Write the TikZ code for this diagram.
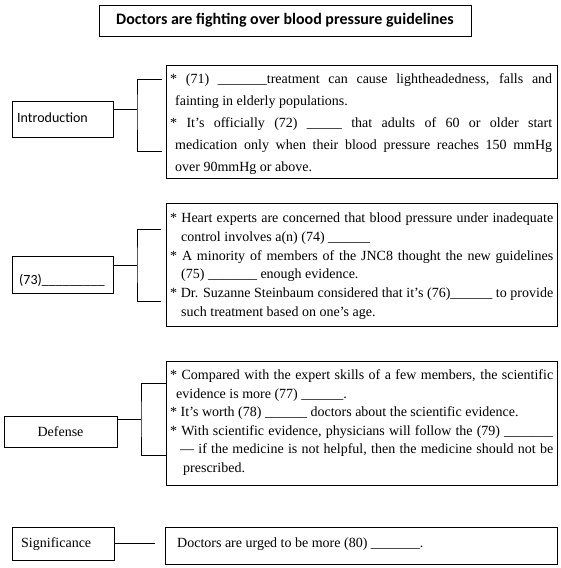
\documentclass[tikz,border=0pt]{standalone}
\usepackage{fontspec}
\setmainfont{Liberation Serif}
\newfontfamily\calfont{Carlito}
\begin{document}
\begin{tikzpicture}[x=1pt,y=-1pt,
  box/.style={draw,line width=0.8pt,inner sep=0pt},
  ln/.style={anchor=base west,inner sep=0pt,font=\fontsize{14}{16}\selectfont},
  lab/.style={anchor=base west,inner sep=0pt,font=\calfont\fontsize{14}{16}\selectfont},
  con/.style={line width=0.8pt}]
\useasboundingbox (0,0) rectangle (561,568);
% title
\node[box,minimum width=372pt,minimum height=31pt,font=\calfont\bfseries\fontsize{16}{18}\selectfont] (title) at (285,20.5) {Doctors are fighting over blood pressure guidelines};
% label boxes
\node[box,minimum width=101pt,minimum height=36pt] (intro) at (62.5,119.5) {};
\node[lab] (introtxt) at (17,122) {Introduction};
\node[box,minimum width=101pt,minimum height=37pt] (q73) at (62.5,274.5) {};
\node[lab] (q73txt) at (19,284) {(73)\_\_\_\_\_\_\_\_\_};
\node[box,minimum width=113pt,minimum height=31pt] (def) at (60.5,431.5) {};
\node[ln,anchor=base] (deftxt) at (60.5,436.5) {Defense};
\node[box,minimum width=102pt,minimum height=33pt] (sig) at (63,543.5) {};
\node[ln] (sigtxt) at (21,547.5) {Significance};
% text boxes
\node[box,minimum width=391pt,minimum height=113pt] (t1) at (361.5,121.5) {};
\node[box,minimum width=391pt,minimum height=123pt] (t2) at (361.5,264.5) {};
\node[box,minimum width=391pt,minimum height=124pt] (t3) at (361.5,423) {};
\node[box,minimum width=392pt,minimum height=37pt] (t4) at (361,545.5) {};
% text 1
\node[ln] (a1) at (170,83) {\makebox[382pt][s]{* (71) \_\_\_\_\_\_\_treatment can cause lightheadedness, falls and}};
\node[ln] (a2) at (175,105.2) {fainting in elderly populations.};
\node[ln] (a3) at (170,127.4) {\makebox[382pt][s]{* It’s officially (72) \_\_\_\_\_ that adults of 60 or older start}};
\node[ln] (a4) at (175,149.6) {\makebox[377pt][s]{medication only when their blood pressure reaches 150 mmHg}};
\node[ln] (a5) at (175,171.8) {over 90mmHg or above.};
% text 2
\node[ln] (b1) at (170,222.5) {\makebox[383pt][s]{* Heart experts are concerned that blood pressure under inadequate}};
\node[ln] (b2) at (181,241.3) {control involves a(n) (74) \_\_\_\_\_\_};
\node[ln] (b3) at (170,260.1) {\makebox[383pt][s]{* A minority of members of the JNC8 thought the new guidelines}};
\node[ln] (b4) at (181,278.9) {(75) \_\_\_\_\_\_\_ enough evidence.};
\node[ln] (b5) at (170,297.7) {\makebox[383pt][s]{* Dr. Suzanne Steinbaum considered that it’s (76)\_\_\_\_\_\_ to provide}};
\node[ln] (b6) at (181,316.5) {such treatment based on one’s age.};
% text 3
\node[ln] (c1) at (170,379.5) {\makebox[383pt][s]{* Compared with the expert skills of a few members, the scientific}};
\node[ln] (c2) at (176,398.1) {evidence is more (77) \_\_\_\_\_\_.};
\node[ln] (c3) at (170,416.7) {* It’s worth (78) \_\_\_\_\_\_ doctors about the scientific evidence.};
\node[ln] (c4) at (170,435.3) {\makebox[383pt][s]{* With scientific evidence, physicians will follow the (79) \_\_\_\_\_\_\_}};
\node[ln] (c5) at (180,453.9) {\makebox[373pt][s]{— if the medicine is not helpful, then the medicine should not be}};
\node[ln] (c6) at (183,472.5) {prescribed.};
% text 4
\node[ln] (d1) at (177,547.5) {Doctors are urged to be more (80) \_\_\_\_\_\_\_.};
% connectors
\coordinate (j1) at (137,109);
\coordinate (e1t) at (162,79);
\coordinate (e1b) at (162,151);
\draw[con] (intro.east |- j1) -- (j1);
\draw[con] (e1t) -| (j1) |- (e1b);
\coordinate (j2) at (137,265);
\coordinate (e2t) at (161,229);
\coordinate (e2b) at (161,301);
\draw[con] (q73.east |- j2) -- (j2);
\draw[con] (e2t) -| (j2) |- (e2b);
\coordinate (j3) at (141,419);
\draw[con] (def.east |- j3) -- (j3);
\draw[con] (t3.west |- 0,383) -| (j3) |- (t3.west |- 0,455);
\coordinate (e4) at (155,543);
\draw[con] (sig.east |- e4) -- (e4);
\end{tikzpicture}
\end{document}
